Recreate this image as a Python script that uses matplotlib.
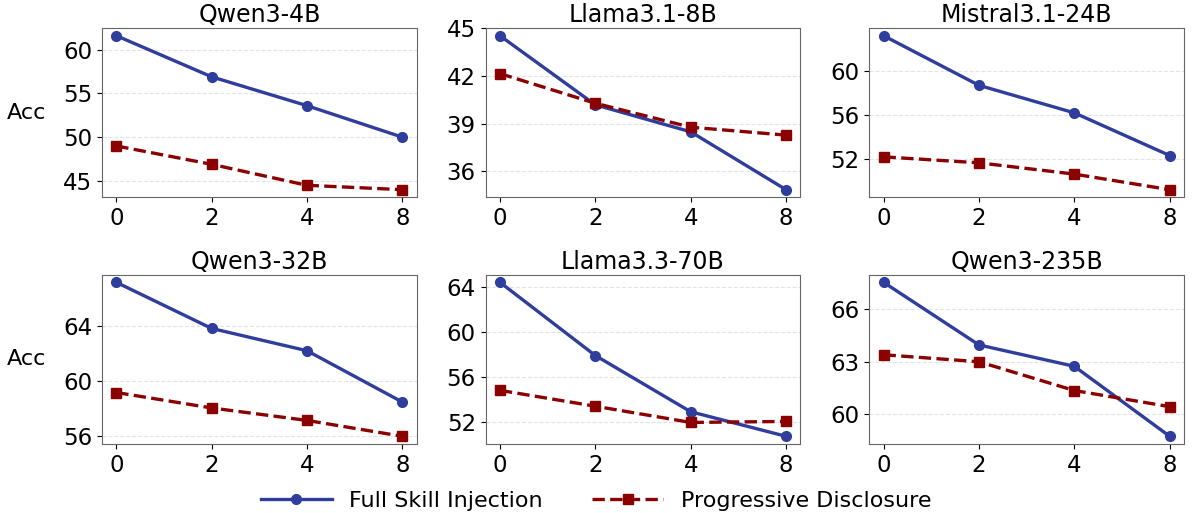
import matplotlib
matplotlib.use("Agg")
import matplotlib.pyplot as plt
import numpy as np

plt.rcParams['font.family'] = ['DejaVu Sans']

shots = ["0", "2", "4", "8"]
models = ["Qwen3-4B", "Llama3.1-8B", "Mistral3.1-24B",
          "Qwen3-32B", "Llama3.3-70B", "Qwen3-235B"]

full_qwen4b = [61.6, 56.9, 53.6, 50.0]
prog_qwen4b = [49.0, 46.9, 44.5, 44.0]
full_llama8b = [44.54, 40.18, 38.48, 34.83]
prog_llama8b = [42.15, 40.28, 38.77, 38.27]
full_mistral = [63.17, 58.68, 56.19, 52.33]
prog_mistral = [52.21, 51.67, 50.65, 49.24]
full_qwen32b = [67.22, 63.85, 62.22, 58.47]
prog_qwen32b = [59.17, 58.04, 57.13, 55.97]
full_llama70b = [64.41, 57.91, 52.92, 50.74]
prog_llama70b = [54.82, 53.41, 51.97, 52.06]
full_qwen235b = [67.53, 63.96, 62.74, 58.75]
prog_qwen235b = [63.40, 63.00, 61.36, 60.44]

full_all = [full_qwen4b, full_llama8b, full_mistral, full_qwen32b, full_llama70b, full_qwen235b]
prog_all = [prog_qwen4b, prog_llama8b, prog_mistral, prog_qwen32b, prog_llama70b, prog_qwen235b]
yticks_all = [[45, 50, 55, 60], [36, 39, 42, 45], [52, 56, 60],
              [56, 60, 64], [52, 56, 60, 64], [60, 63, 66]]

blue = '#2f3d9c'
red = '#8b0000'

fig, axes = plt.subplots(2, 3, figsize=(11.92, 5.13), dpi=100)
fig.subplots_adjust(left=102/1192, right=1184/1192, top=1-28/513, bottom=1-444/513,
                    wspace=0.219, hspace=0.456)

x = np.arange(len(shots))
for i, ax in enumerate(axes.flat):
    l1, = ax.plot(x, full_all[i], color=blue, lw=2.4, marker='o', ms=7,
                  label='Full Skill Injection')
    l2, = ax.plot(x, prog_all[i], color=red, lw=2.4, ls='--', marker='s', ms=7,
                  label='Progressive Disclosure')
    ax.set_title(models[i], fontsize=17, pad=4)
    ax.set_xticks(x)
    ax.set_xticklabels(shots)
    ax.set_yticks(yticks_all[i])
    ax.tick_params(labelsize=16.5)
    ax.grid(axis='y', ls='--', color='#dddddd', lw=0.8, alpha=0.8)
    ax.set_axisbelow(True)
    for s in ax.spines.values():
        s.set_color('#666666')
    if i % 3 == 0:
        ax.set_ylabel('Acc', fontsize=16, rotation=0, labelpad=26, va='center')

fig.legend([l1, l2], ['Full Skill Injection', 'Progressive Disclosure'],
           loc='center', ncol=2, frameon=False, fontsize=16,
           bbox_to_anchor=(0.5, 1 - 501/513), columnspacing=2.2, handlelength=3.2)

fig.savefig('out.png', dpi=100)
